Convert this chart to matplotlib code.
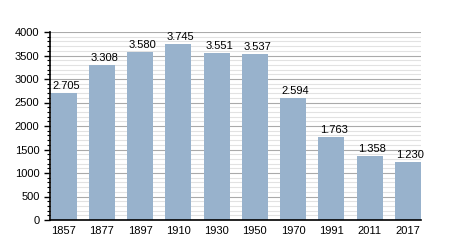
import numpy as np
from matplotlib import pyplot as plt
from matplotlib.ticker import MultipleLocator

years = ["1857", "1877", "1897", "1910", "1930", "1950", "1970", "1991", "2011", "2017"]
population = [2705, 3308, 3580, 3745, 3551, 3537, 2594, 1763, 1358, 1230]
labels = ["2.705", "3.308", "3.580", "3.745", "3.551", "3.537", "2.594", "1.763", "1.358", "1.230"]

plt.rcParams['font.family'] = ['Liberation Sans', 'DejaVu Sans']

fig = plt.figure(figsize=(4.5, 2.5), dpi=100)
ax = fig.add_axes([0.111, 0.12, 0.825, 0.752])
ax.set_axisbelow(True)

x = np.arange(len(years))
ax.bar(x, population, width=0.68, color="#98b2cc", zorder=2)

# value labels sit a little right of bar centre
for xi, v, t in zip(x, population, labels):
    ax.text(xi + 0.06, v + 40, t, ha="center", va="bottom", fontsize=8, color="black", zorder=4)

ax.set_xlim(-0.36, 9.35)
ax.set_ylim(0, 4000)
ax.set_xticks(x)
ax.set_xticklabels(years, fontsize=8)
ax.yaxis.set_major_locator(MultipleLocator(500))
ax.yaxis.set_minor_locator(MultipleLocator(100))
ax.tick_params(axis="y", labelsize=8, length=4, width=1)
ax.tick_params(axis="y", which="minor", length=2, width=0.8)
ax.tick_params(axis="x", length=0, pad=4)

ax.grid(axis="y", which="major", color="#aaaaaa", linewidth=0.8, zorder=1)
ax.grid(axis="y", which="minor", color="#e2e2e2", linewidth=0.8, zorder=0)

for s in ["top", "right"]:
    ax.spines[s].set_visible(False)
for s in ["left", "bottom"]:
    ax.spines[s].set_linewidth(1.2)
    ax.spines[s].set_zorder(5)

fig.savefig("out.png", dpi=100)
